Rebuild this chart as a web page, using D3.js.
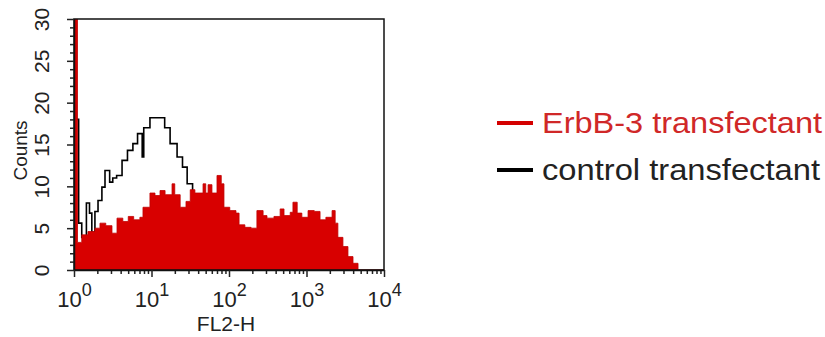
<!DOCTYPE html>
<html>
<head>
<meta charset="utf-8">
<script src="https://cdn.jsdelivr.net/npm/d3@7"></script>
<style>
  body { margin: 0; background: #fff; }
  svg { font-family: "Liberation Sans", Arial, sans-serif; }
</style>
</head>
<body>
<div id="chart"></div>
<script>
// FL2-H channel positions (log10 of intensity) and counts
const redLog = [0.00, 0.045, 0.10, 0.18, 0.27, 0.335, 0.41, 0.49, 0.555, 0.63, 0.70, 0.77, 0.85, 0.89, 0.98, 1.045,
  1.11, 1.175, 1.265, 1.30, 1.37, 1.445, 1.50, 1.56, 1.665, 1.70, 1.73, 1.78, 1.845, 1.90, 1.935, 2.01, 2.09, 2.13,
  2.205, 2.285, 2.36, 2.44, 2.49, 2.58, 2.66, 2.71, 2.79, 2.825, 2.88, 2.94, 3.02, 3.10, 3.175, 3.25, 3.33, 3.37,
  3.405, 3.47, 3.535, 3.60, 3.665, 4.00];
const redCounts = [40, 3.3, 4.2, 4.6, 5.0, 5.6, 5.3, 4.4, 6.2, 5.8, 6.4, 6.0, 6.3, 7.5, 9.2, 8.9,
  9.5, 9.0, 10.3, 9.0, 7.5, 8.2, 9.6, 9.2, 10.3, 9.2, 10.2, 9.2, 11.3, 10.3, 7.5, 7.1, 6.8, 5.4,
  5.1, 5.0, 7.1, 6.5, 6.2, 6.4, 7.3, 6.5, 6.9, 8.1, 6.8, 6.3, 7.1, 7.0, 6.0, 6.3, 7.1, 5.6,
  3.9, 2.8, 1.6, 0.8, 0, 0];

const blackLog = [0.00, 0.06, 0.10, 0.16, 0.20, 0.23, 0.27, 0.31, 0.36, 0.40, 0.46, 0.50, 0.55, 0.62, 0.69, 0.76,
  0.82, 0.88, 0.90, 0.98, 1.17, 1.24, 1.33, 1.40, 1.46, 1.53, 1.60, 1.70, 1.85, 2.00, 2.20, 2.40];
const blackCounts = [18, 5.6, 3.9, 8.0, 6.8, 4.5, 7.0, 8.3, 9.9, 11.9, 10.5, 11.0, 11.3, 13.1, 14.3, 15.1,
  16.3, 13.5, 17.0, 18.2, 17.0, 15.1, 13.5, 12.3, 10.3, 8.5, 6.5, 4.5, 3.0, 1.5, 0.5, 0];

const yTicks = [0, 5, 10, 15, 20, 25, 30];
const xDecades = [0, 1, 2, 3, 4];
const legendLabels = ["ErbB-3 transfectant", "control transfectant"];
const legendColors = ["#d40000", "#000"];

const width = 825, height = 337;
const margin = { left: 74, right: 441, top: 19, bottom: 67 };

const svg = d3.select("#chart").append("svg")
  .attr("width", width)
  .attr("height", height);

const x = d3.scaleLog()
  .domain([1, 10000])
  .range([margin.left, width - margin.right]);

const y = d3.scaleLinear()
  .domain([0, 30])
  .range([height - margin.bottom, margin.top]);

svg.append("clipPath").attr("id", "plotclip")
  .append("rect")
  .attr("x", margin.left).attr("y", margin.top)
  .attr("width", x.range()[1] - margin.left)
  .attr("height", y(0) - margin.top);

const plot = svg.append("g").attr("clip-path", "url(#plotclip)");

//control histogram, drawn under the filled one
const blackData = blackLog.map((l, i) => ({ v: Math.pow(10, l), c: blackCounts[i] }));
plot.append("path")
  .datum(blackData)
  .attr("fill", "none")
  .attr("stroke", "#000")
  .attr("stroke-width", 1.6)
  .attr("d", d3.line().curve(d3.curveStepAfter).x(d => x(d.v)).y(d => y(d.c)));

//ErbB-3 histogram
const redData = redLog.map((l, i) => ({ v: Math.pow(10, l), c: redCounts[i] }));
plot.append("path")
  .datum(redData)
  .attr("fill", "#d80000")
  .attr("stroke", "#c00000")
  .attr("stroke-width", 0.8)
  .attr("d", d3.area().curve(d3.curveStepAfter).x(d => x(d.v)).y0(y(0)).y1(d => y(d.c)));

//frame
svg.append("rect")
  .attr("x", margin.left).attr("y", margin.top)
  .attr("width", x.range()[1] - margin.left)
  .attr("height", y(0) - margin.top)
  .attr("fill", "none")
  .attr("stroke", "#111")
  .attr("stroke-width", 1.5);

//y axis
const minorY = d3.range(0, 31).filter(d => d % 5 !== 0);
svg.append("g")
  .attr("transform", `translate(${margin.left},0)`)
  .call(d3.axisLeft(y).tickValues(minorY).tickSize(4).tickFormat(""))
  .call(g => g.select(".domain").remove())
  .selectAll("line").attr("stroke", "#222").attr("stroke-width", 1.5);

const yAxis = svg.append("g")
  .attr("transform", `translate(${margin.left},0)`)
  .call(d3.axisLeft(y).tickValues(yTicks).tickSize(7).tickSizeOuter(0));
yAxis.select(".domain").attr("stroke", "#111").attr("stroke-width", 1.5);
yAxis.selectAll("line").attr("stroke", "#222").attr("stroke-width", 1.5);
yAxis.selectAll("text")
  .attr("transform", "rotate(-90)")
  .attr("x", 0).attr("y", -25).attr("dy", 0)
  .attr("text-anchor", "middle")
  .attr("fill", "#222")
  .style("font-size", "21px");

svg.append("text")
  .attr("transform", `translate(27,${(margin.top + y(0)) / 2 + 6}) rotate(-90)`)
  .attr("text-anchor", "middle")
  .attr("fill", "#222")
  .style("font-size", "19px")
  .text("Counts");

//x axis
const minorX = [];
xDecades.slice(0, -1).forEach(e => d3.range(2, 10).forEach(m => minorX.push(m * Math.pow(10, e))));
svg.append("g")
  .attr("transform", `translate(0,${y(0)})`)
  .call(d3.axisBottom(x).tickValues(minorX).tickSize(4).tickFormat(""))
  .call(g => g.select(".domain").remove())
  .selectAll("line").attr("stroke", "#222").attr("stroke-width", 1.5);

const xAxis = svg.append("g")
  .attr("transform", `translate(0,${y(0)})`)
  .call(d3.axisBottom(x).tickValues(xDecades.map(e => Math.pow(10, e))).tickSize(7).tickSizeOuter(0).tickFormat(""));
xAxis.select(".domain").attr("stroke", "#111").attr("stroke-width", 1.5);
xAxis.selectAll("line").attr("stroke", "#222").attr("stroke-width", 1.5);
xAxis.selectAll(".tick").each(function (d, i) {
  const t = d3.select(this).append("text")
    .attr("y", 37)
    .attr("text-anchor", "middle")
    .attr("fill", "#222")
    .style("font-size", "22px");
  t.append("tspan").text("10");
  t.append("tspan").attr("dy", -11).style("font-size", "18px").text(xDecades[i]);
});

svg.append("text")
  .attr("x", (margin.left + x.range()[1]) / 2 - 3)
  .attr("y", 331)
  .attr("text-anchor", "middle")
  .attr("fill", "#222")
  .style("font-size", "21px")
  .text("FL2-H");

//legend
const legendWidths = [280, 278];
const legend = svg.append("g").attr("transform", "translate(497,123)");
legendLabels.forEach((lab, i) => {
  const g = legend.append("g").attr("transform", `translate(0,${i * 47})`);
  g.append("line")
    .attr("x1", 0).attr("x2", 36)
    .attr("stroke", legendColors[i])
    .attr("stroke-width", 4);
  g.append("text")
    .attr("x", 45).attr("y", 10)
    .attr("fill", i === 0 ? "#d02828" : "#222")
    .attr("textLength", legendWidths[i])
    .attr("lengthAdjust", "spacingAndGlyphs")
    .style("font-size", "29px")
    .text(lab);
});
</script>
</body>
</html>
